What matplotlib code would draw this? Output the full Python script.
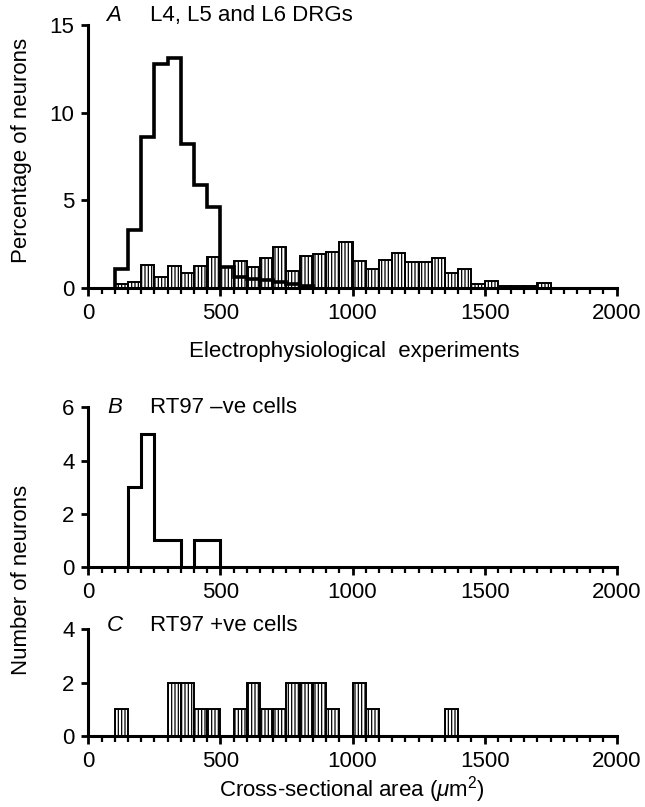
import numpy as np
import matplotlib
matplotlib.use("Agg")
import matplotlib.pyplot as plt
from matplotlib.ticker import MultipleLocator

plt.rcParams['font.family'] = ['Liberation Sans', 'DejaVu Sans']
plt.rcParams['mathtext.fontset'] = 'custom'
plt.rcParams['mathtext.rm'] = 'Liberation Sans'
plt.rcParams['mathtext.it'] = 'Liberation Sans:italic'
plt.rcParams['hatch.linewidth'] = 0.9

# Panel A: percentage of neurons, L4-L6 DRGs (50 um^2 bins)
a_open_start = 100
a_open_pct = [1.1, 3.3, 8.6, 12.8, 13.1, 8.2, 5.9, 4.6, 1.2, 0.6, 0.5, 0.45,
              0.35, 0.25, 0.1]
a_hatch_start = 100
a_hatch_pct = [0.2, 0.35, 1.3, 0.6, 1.25, 0.85, 1.25, 1.75, 1.2, 1.55, 1.2,
               1.7, 2.35, 0.95, 1.8, 1.94, 2.08, 2.65, 1.55, 1.1, 1.58, 1.98,
               1.48, 1.48, 1.7, 0.86, 1.1, 0.25, 0.42, 0.12, 0.12, 0.12, 0.29]

# Panel B: RT97 -ve cells (counts, 50 um^2 bins from 150)
b_start = 150
b_counts = [3, 5, 1, 1, 0, 1, 1]

# Panel C: RT97 +ve cells (counts, 50 um^2 bins from 100)
c_start = 100
c_counts = [1, 0, 0, 0, 2, 2, 1, 1, 0, 1, 2, 1, 1, 2, 2, 2, 1, 0, 2, 1,
            0, 0, 0, 0, 0, 1]

bin_w = 50
W, H = 645, 807
fs = 16


def style_axis(ax, ymax, ystep):
    ax.set_xlim(0, 2000)
    ax.set_ylim(0, ymax)
    ax.spines['top'].set_visible(False)
    ax.spines['right'].set_visible(False)
    ax.spines['left'].set_linewidth(2.2)
    ax.spines['bottom'].set_linewidth(2.2)
    ax.xaxis.set_major_locator(MultipleLocator(500))
    ax.xaxis.set_minor_locator(MultipleLocator(50))
    ax.yaxis.set_major_locator(MultipleLocator(ystep))
    ax.tick_params(axis='x', which='major', length=6, width=2, labelsize=fs, pad=5)
    ax.tick_params(axis='x', which='minor', length=4, width=1.6)
    ax.tick_params(axis='y', which='major', length=5, width=2, labelsize=fs, pad=5)


def box(x0, y0, x1, y1):
    return [x0 / W, 1 - y1 / H, (x1 - x0) / W, (y1 - y0) / H]


fig = plt.figure(figsize=(6.45, 8.07), dpi=100)

# ---- A
axA = fig.add_axes(box(88.3, 25, 616.7, 288))
xs = a_hatch_start + bin_w * np.arange(len(a_hatch_pct))
axA.bar(xs, a_hatch_pct, width=bin_w, align='edge', color='white',
        edgecolor='black', linewidth=1.4, hatch='|||||')
edges = a_open_start + bin_w * np.arange(len(a_open_pct) + 1)
axA.stairs(a_open_pct, edges, color='black', linewidth=2.6, baseline=0)
style_axis(axA, 15, 5)
axA.text(0.047, 1.035, 'A', transform=axA.transAxes, style='italic',
         fontsize=fs, va='center', ha='center')
axA.text(0.117, 1.035, 'L4, L5 and L6 DRGs', transform=axA.transAxes,
         fontsize=fs, va='center', ha='left')

fig.text(354 / W, 1 - 352 / H, 'Electrophysiological  experiments',
         fontsize=fs, ha='center', va='center')

# ---- B
axB = fig.add_axes(box(88.3, 407.4, 616.7, 567))
edges = b_start + bin_w * np.arange(len(b_counts) + 1)
axB.stairs(b_counts, edges, color='black', linewidth=2.2, baseline=0)
style_axis(axB, 6, 2)
axB.text(0.05, 1.0, 'B', transform=axB.transAxes, style='italic',
         fontsize=fs, va='center', ha='center')
axB.text(0.117, 1.0, 'RT97 \u2013ve cells', transform=axB.transAxes,
         fontsize=fs, va='center', ha='left')

# ---- C
axC = fig.add_axes(box(88.3, 629.3, 616.7, 736))
xs = c_start + bin_w * np.arange(len(c_counts))
axC.bar(xs, c_counts, width=bin_w, align='edge', color='white',
        edgecolor='black', linewidth=1.4, hatch='|||||')
style_axis(axC, 4, 2)
axC.text(0.05, 1.04, 'C', transform=axC.transAxes, style='italic',
         fontsize=fs, va='center', ha='center')
axC.text(0.117, 1.04, 'RT97 +ve cells', transform=axC.transAxes,
         fontsize=fs, va='center', ha='left')

fig.text(22 / W, 1 - 150 / H, 'Percentage of neurons', rotation=90,
         fontsize=fs, ha='center', va='center')
fig.text(22 / W, 1 - 580 / H, 'Number of neurons', rotation=90,
         fontsize=fs, ha='center', va='center')
fig.text(352 / W, 1 - 790 / H, r'Cross-sectional area ($\mu$m$^2$)',
         fontsize=fs, ha='center', va='center')

fig.savefig('out.png', dpi=100)
